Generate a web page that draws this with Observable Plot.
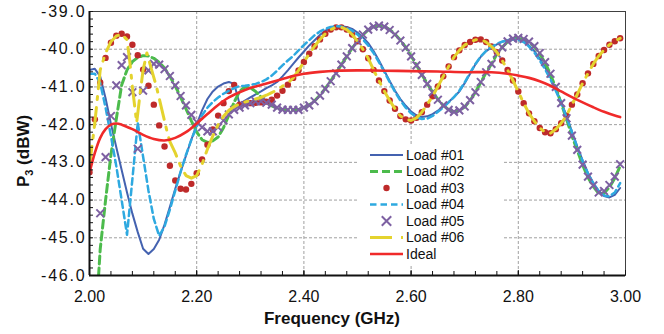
<!DOCTYPE html>
<html><head><meta charset="utf-8">
<script src="https://cdn.jsdelivr.net/npm/d3@7"></script>
<script src="https://cdn.jsdelivr.net/npm/@observablehq/plot@0.6"></script>
<style>body{margin:0;background:#fff;} svg{display:block}</style>
</head><body><div id="chart"></div>
<script>
// frequency grid of the sampled loads (GHz), 2.00 .. 2.99
const freq = d3.range(0, 100).map(i => (200 + i) / 100);

const load01 = [
 -40.55,-40.52,-40.72,-41.30,-41.98,-42.60,-43.20,-43.80,-44.36,-44.85,
 -45.29,-45.43,-45.30,-45.05,-44.65,-44.18,-43.70,-43.25,-42.82,-42.40,
 -42.00,-41.62,-41.32,-41.12,-40.99,-40.91,-40.87,-40.92,-41.45,-41.36,
 -41.28,-41.20,-41.12,-41.03,-40.96,-40.87,-40.72,-40.56,-40.39,-40.22,
 -40.06,-39.90,-39.76,-39.62,-39.51,-39.44,-39.41,-39.40,-39.41,-39.46,
 -39.56,-39.68,-39.84,-40.05,-40.30,-40.57,-40.84,-41.10,-41.32,-41.50,
 -41.65,-41.75,-41.80,-41.78,-41.72,-41.63,-41.52,-41.40,-41.27,-41.12,
 -40.90,-40.65,-40.40,-40.20,-40.05,-39.95,-39.87,-39.80,-39.76,-39.73,
 -39.73,-39.79,-39.90,-40.05,-40.25,-40.48,-40.75,-41.05,-41.40,-41.77,
 -42.18,-42.58,-42.95,-43.28,-43.55,-43.76,-43.89,-43.93,-43.86,-43.68];

const load02 = [
 null,-47.60,-45.30,-44.00,-42.80,-41.85,-40.95,-40.55,-40.33,-40.22,
 -40.17,-40.18,-40.24,-40.35,-40.50,-40.72,-40.98,-41.27,-41.58,-41.90,
 -42.20,-42.40,-42.47,-42.43,-42.33,-42.08,-41.75,-41.40,-41.12,-41.00,
 -41.02,-41.12,-41.27,-41.40,-41.50,-41.56,-41.60,-41.61,-41.61,-41.60,
 -41.55,-41.48,-41.37,-41.22,-41.04,-40.84,-40.63,-40.41,-40.19,-39.97,
 -39.79,-39.62,-39.49,-39.41,-39.38,-39.40,-39.48,-39.60,-39.76,-39.95,
 -40.18,-40.42,-40.67,-40.91,-41.13,-41.33,-41.49,-41.60,-41.66,-41.63,
 -41.53,-41.36,-41.14,-40.88,-40.62,-40.39,-40.13,-39.95,-39.80,-39.72,
 -39.70,-39.73,-39.81,-39.93,-40.12,-40.36,-40.67,-41.02,-41.44,-41.85,
 -42.30,-42.68,-43.07,-43.40,-43.64,-43.82,-43.82,-43.66,-43.42,-43.10];

const load03 = [
 -43.26,-41.86,-40.88,-40.23,-39.83,-39.64,-39.59,-39.66,-39.88,-40.16,
 -40.54,-40.97,-41.47,-42.02,-42.58,-43.09,-43.48,-43.70,-43.72,-43.57,
 -43.29,-42.92,-42.53,-42.13,-41.76,-41.43,-41.11,-40.95,-41.47,-41.45,
 -41.43,-41.42,-41.41,-41.39,-41.34,-41.23,-41.10,-40.94,-40.76,-40.56,
 -40.34,-40.12,-39.92,-39.74,-39.59,-39.48,-39.42,-39.42,-39.48,-39.61,
 -39.79,-40.00,-40.24,-40.55,-40.83,-41.11,-41.36,-41.58,-41.77,-41.86,
 -41.89,-41.82,-41.67,-41.47,-41.25,-40.99,-40.72,-40.46,-40.21,-40.03,
 -39.89,-39.81,-39.75,-39.74,-39.81,-39.93,-40.08,-40.30,-40.55,-40.83,
 -41.12,-41.43,-41.70,-41.91,-42.09,-42.20,-42.23,-42.12,-41.96,-41.76,
 -41.47,-41.20,-40.90,-40.64,-40.39,-40.18,-40.02,-39.88,-39.79,-39.71];

const load04 = [
 -40.65,-40.65,-40.90,-41.55,-42.30,-43.10,-44.00,-44.92,-43.45,-41.95,
 -42.85,-43.75,-44.50,-44.95,-44.70,-44.25,-43.75,-43.25,-42.80,-42.40,
 -42.05,-41.75,-41.55,-41.40,-41.28,-41.18,-41.10,-41.03,-40.98,-40.97,
 -40.95,-40.92,-40.87,-40.80,-40.70,-40.57,-40.43,-40.30,-40.18,-40.03,
 -39.89,-39.76,-39.63,-39.53,-39.46,-39.41,-39.39,-39.40,-39.44,-39.51,
 -39.61,-39.74,-39.90,-40.10,-40.34,-40.60,-40.87,-41.13,-41.36,-41.55,
 -41.70,-41.80,-41.85,-41.84,-41.77,-41.66,-41.54,-41.41,-41.27,-41.10,
 -40.88,-40.63,-40.39,-40.19,-40.04,-39.94,-39.86,-39.80,-39.76,-39.74,
 -39.75,-39.81,-39.93,-40.09,-40.30,-40.53,-40.80,-41.10,-41.44,-41.80,
 -42.20,-42.60,-42.97,-43.30,-43.56,-43.76,-43.88,-43.90,-43.80,-43.55];

const load05 = [
 null,null,-44.35,-42.86,-41.77,-40.96,-40.42,-40.21,-41.14,-42.64,
 -41.10,-40.56,-40.39,-40.41,-40.53,-40.71,-40.96,-41.24,-41.49,-41.74,
 -41.93,-42.07,-42.18,-42.18,-42.07,-41.89,-41.73,-41.61,-41.55,-41.49,
 -41.43,-41.38,-41.38,-41.42,-41.47,-41.55,-41.60,-41.61,-41.61,-41.61,
 -41.55,-41.49,-41.38,-41.23,-41.05,-40.85,-40.64,-40.41,-40.19,-39.97,
 -39.79,-39.61,-39.48,-39.40,-39.37,-39.40,-39.49,-39.61,-39.77,-39.96,
 -40.19,-40.43,-40.68,-40.92,-41.14,-41.34,-41.49,-41.61,-41.66,-41.62,
 -41.52,-41.35,-41.14,-40.87,-40.61,-40.39,-40.12,-39.95,-39.79,-39.72,
 -39.70,-39.73,-39.80,-39.92,-40.10,-40.34,-40.65,-41.00,-41.43,-41.83,
 -42.29,-42.67,-43.06,-43.38,-43.61,-43.80,-43.76,-43.60,-43.38,-43.05];

const load06Freq = [2.000,2.010,2.020,2.030,2.040,2.050,2.060,2.070,2.075,2.080,
 2.088,2.095,2.100,2.107,2.115,2.125,2.135,2.145,2.150,2.160,2.170,2.180,2.190,
 2.200,2.210,2.220,2.230,2.240,2.250,2.260,2.270,2.280,2.290,2.300,2.310,2.320,
 2.330,2.340,2.350,2.360,2.370,2.380].concat(d3.range(239, 300).map(i => i / 100));
const load06 = [-43.10,-41.95,-40.55,-40.10,-39.80,-39.65,-39.60,-39.75,-40.30,-41.00,
 -41.95,-41.10,-40.55,-40.10,-40.50,-41.00,-41.60,-42.20,-42.45,-42.75,-43.10,-43.35,-43.42,
 -43.35,-43.05,-42.65,-42.30,-42.00,-41.78,-41.62,-41.52,-41.45,-41.40,-41.36,-41.32,-41.28,
 -41.22,-41.15,-41.08,-40.98,-40.90,-40.76,
 -40.56,-40.34,-40.12,-39.92,-39.74,-39.59,-39.48,-39.42,-39.42,-39.48,-39.61,
 -39.79,-40.00,-40.24,-40.55,-40.83,-41.11,-41.36,-41.58,-41.77,-41.86,
 -41.89,-41.82,-41.67,-41.47,-41.25,-40.99,-40.72,-40.46,-40.21,-40.03,
 -39.89,-39.81,-39.75,-39.74,-39.81,-39.93,-40.08,-40.30,-40.55,-40.83,
 -41.12,-41.43,-41.70,-41.91,-42.09,-42.20,-42.23,-42.12,-41.96,-41.76,
 -41.47,-41.20,-40.90,-40.64,-40.39,-40.18,-40.02,-39.88,-39.79,-39.71];

const idealFreq = [2.00,2.01,2.02,2.03,2.04,2.05,2.06,2.08,2.10,2.12,2.14,2.16,2.18,2.20,
 2.22,2.24,2.26,2.28,2.30,2.32,2.34,2.36,2.38,2.40,2.43,2.46,2.50,2.55,2.60,2.65,2.70,
 2.75,2.78,2.80,2.82,2.84,2.86,2.88,2.90,2.92,2.94,2.96,2.98,2.99];
const ideal = [-43.28,-42.75,-42.35,-42.12,-42.00,-41.97,-42.00,-42.12,-42.27,-42.38,-42.42,-42.35,-42.20,-41.97,
 -41.72,-41.48,-41.28,-41.14,-41.03,-40.95,-40.87,-40.79,-40.71,-40.65,-40.60,-40.57,-40.56,-40.57,-40.58,-40.59,-40.61,
 -40.61,-40.65,-40.70,-40.76,-40.85,-40.97,-41.12,-41.27,-41.41,-41.54,-41.66,-41.76,-41.80];

const seriesNames = ["Load #01","Load #02","Load #03","Load #04","Load #05","Load #06","Ideal"];
const xTicks = [2.0, 2.2, 2.4, 2.6, 2.8, 3.0];
const yTicks = [-46, -45, -44, -43, -42, -41, -40, -39];
const xMinor = d3.range(0, 26).map(i => 2 + i * 0.04);
const yMinor = d3.range(0, 36).map(i => -46 + i * 0.2);

const colors = {c1:"#4462b0", c2:"#4cbb4c", c3:"#be2a2a", c4:"#2ea9e0", c5:"#7d60a2", c6:"#e4d32e", ci:"#f02a2a"};

const rows = (xs, vs) => xs.map((f, i) => ({f, v: vs[i]})).filter(d => d.v != null);

const chart = Plot.plot({
  width: 664, height: 334,
  marginLeft: 89, marginRight: 39, marginTop: 11, marginBottom: 59,
  x: {domain: [2, 3], label: null},
  y: {domain: [-46, -39], label: null},
  style: {fontFamily: "'Liberation Sans', Arial, sans-serif", background: "#fff", color: "#111", overflow: "visible"},
  marks: [
    Plot.gridX(xTicks.slice(1, -1), {stroke: "#a0a0a0", strokeOpacity: 1, strokeDasharray: "3,2"}),
    Plot.gridY(yTicks.slice(1, -1), {stroke: "#a0a0a0", strokeOpacity: 1, strokeDasharray: "3,2"}),
    Plot.line(rows(freq, load01), {x: "f", y: "v", stroke: colors.c1, strokeWidth: 2, clip: true}),
    Plot.line(rows(freq, load02), {x: "f", y: "v", stroke: colors.c2, strokeWidth: 3, strokeDasharray: "8,4", clip: true}),
    Plot.dot(rows(freq, load03), {x: "f", y: "v", r: 3.2, fill: colors.c3, clip: true}),
    Plot.line(rows(freq, load04), {x: "f", y: "v", stroke: colors.c4, strokeWidth: 2.5, strokeDasharray: "6.5,4", clip: true}),
    Plot.dot(rows(freq, load05), {x: "f", y: "v", symbol: "times", r: 3.6, stroke: colors.c5, strokeWidth: 2, clip: true}),
    Plot.line(rows(load06Freq, load06), {x: "f", y: "v", stroke: colors.c6, strokeWidth: 3, strokeDasharray: "20,8,3,8", clip: true}),
    Plot.line(rows(idealFreq, ideal), {x: "f", y: "v", stroke: colors.ci, strokeWidth: 2.6, curve: "catmull-rom", clip: true}),
    Plot.frame({stroke: "#404040", strokeWidth: 1}),
    Plot.ruleX([2], {stroke: "#111", strokeWidth: 2}),
    Plot.ruleY([-46], {stroke: "#111", strokeWidth: 2}),
    Plot.axisY(yMinor, {anchor: "left", tickSize: -4, tickFormat: () => "", stroke: "#111"}),
    Plot.axisX(xMinor, {anchor: "bottom", tickSize: -4, tickFormat: () => "", stroke: "#111"}),
    Plot.axisX(xTicks, {anchor: "bottom", tickSize: -5, tickFormat: () => "", stroke: "#111"}),
    Plot.axisY(yTicks, {anchor: "left", tickSize: 0, tickPadding: 3, tickFormat: d => d.toFixed(1), fontSize: 16, fill: "#111"}),
    Plot.axisX(xTicks, {anchor: "bottom", tickSize: 0, tickPadding: 15, tickFormat: d => d.toFixed(2), fontSize: 16, fill: "#111"})
  ]
});
document.getElementById("chart").appendChild(chart);

const svg = d3.select(chart);
svg.selectAll("[aria-label='y-axis tick label'] text").style("letter-spacing", "1.8px");

// axis titles
const yt = svg.append("text").attr("transform", "translate(29,151) rotate(-90)")
  .attr("text-anchor", "middle").attr("font-weight", "bold").attr("font-size", 17).attr("fill", "#111");
yt.append("tspan").text("P");
yt.append("tspan").attr("font-size", 11).attr("dy", 4).text("3");
yt.append("tspan").attr("dy", -4).text(" (dBW)");
svg.append("text").attr("x", 332).attr("y", 324).attr("text-anchor", "middle")
  .attr("font-weight", "bold").attr("font-size", 17).attr("fill", "#111").text("Frequency (GHz)");

// legend
const lg = svg.append("g").attr("text-anchor", "start");
lg.append("rect").attr("x", 358).attr("y", 145).attr("width", 145).attr("height", 119).attr("fill", "#fff");
const styles = [
  {c: colors.c1, w: 2, dash: null},
  {c: colors.c2, w: 3, dash: "8,4"},
  {c: colors.c3, dot: true},
  {c: colors.c4, w: 2.5, dash: "6.5,4"},
  {c: colors.c5, cross: true},
  {c: colors.c6, w: 3, dash: "22,9,3,9"},
  {c: colors.ci, w: 2.6, dash: null}
];
seriesNames.forEach((name, i) => {
  const y = 155 + i * 16.5, s = styles[i];
  if (s.dot) lg.append("circle").attr("cx", 386.5).attr("cy", y).attr("r", 3.2).attr("fill", s.c);
  else if (s.cross) lg.append("path").attr("d", d3.symbol(d3.symbolTimes, 60)()).attr("transform", `translate(386.5,${y})`).attr("stroke", s.c).attr("stroke-width", 2).attr("fill", "none");
  else lg.append("line").attr("x1", 370).attr("x2", 403).attr("y1", y).attr("y2", y).attr("stroke", s.c).attr("stroke-width", s.w).attr("stroke-dasharray", s.dash);
  lg.append("text").attr("x", 406).attr("y", y).attr("dy", "0.35em").attr("text-anchor", "start").attr("font-size", 14).attr("fill", "#111").text(name);
});
</script></body></html>
